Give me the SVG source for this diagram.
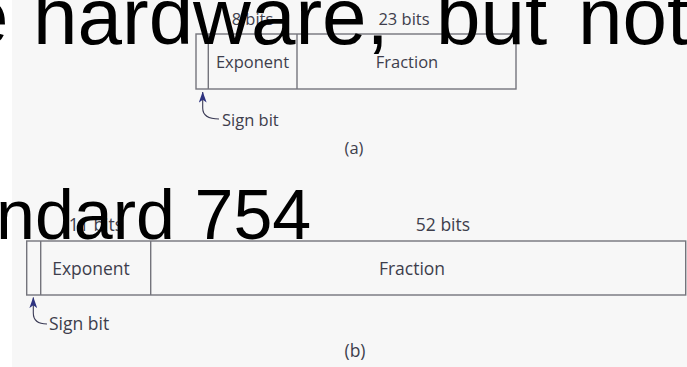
<svg xmlns="http://www.w3.org/2000/svg" width="687" height="367" viewBox="0 0 687 367">
<defs>
<style>
.lbl{font-family:"Open Sans","Noto Sans","Liberation Sans",sans-serif;fill:#3e3e4c}
.box{fill:none;stroke:#74747c;stroke-width:1.4}
.lead{fill:none;stroke:#3a3a55;stroke-width:1.1}
.big{font-family:"Liberation Sans",Arial,sans-serif;fill:#000}
</style>
<marker id="ah" viewBox="0 0 14 10" refX="13.5" refY="5" markerWidth="11" markerHeight="8" markerUnits="userSpaceOnUse" orient="auto">
<path d="M0,0 L14,5 L0,10 L3.5,5 Z" fill="#2e3380"/>
</marker>
</defs>
<rect x="0" y="0" width="687" height="367" fill="#ffffff"/>
<rect x="12" y="0" width="675" height="367" fill="#f7f7f7"/>

<g id="single">
<text class="lbl" x="252.5" y="25" font-size="16.5" text-anchor="middle">8 bits</text>
<text class="lbl" x="404" y="25" font-size="16.5" text-anchor="middle">23 bits</text>
<rect class="box" x="196" y="34" width="320" height="55"/>
<line class="box" x1="208.3" y1="34" x2="208.3" y2="89"/>
<line class="box" x1="297" y1="34" x2="297" y2="89"/>
<text class="lbl" x="252.5" y="68" font-size="16.5" text-anchor="middle">Exponent</text>
<text class="lbl" x="407" y="68" font-size="16.5" text-anchor="middle">Fraction</text>
<text class="lbl" x="222" y="126" font-size="16.5">Sign bit</text>
<text class="lbl" x="354" y="154" font-size="16.5" text-anchor="middle">(a)</text>
</g>

<g id="double">
<text class="lbl" x="96" y="231" font-size="17.5" text-anchor="middle">11 bits</text>
<text class="lbl" x="443" y="231" font-size="17.5" text-anchor="middle">52 bits</text>
<rect class="box" x="26.7" y="241" width="659" height="54"/>
<line class="box" x1="40.7" y1="241" x2="40.7" y2="295"/>
<line class="box" x1="150.7" y1="241" x2="150.7" y2="295"/>
<text class="lbl" x="91" y="275" font-size="17.5" text-anchor="middle">Exponent</text>
<text class="lbl" x="412" y="275" font-size="17.5" text-anchor="middle">Fraction</text>
<text class="lbl" x="49" y="330" font-size="17.5">Sign bit</text>
<text class="lbl" x="355" y="357" font-size="17.5" text-anchor="middle">(b)</text>
</g>

<g id="connectors">
<path class="lead" d="M219,119 C210,119 202.7,116 202.7,108 L202.7,92" marker-end="url(#ah)"/>
<path class="lead" d="M47,324 C38,324 33.3,321 33.3,313 L33.3,297.5" marker-end="url(#ah)"/>
</g>

<g id="overlay">
<text class="big" y="44" font-size="80"><tspan x="-36">e</tspan><tspan x="33">hardware,</tspan><tspan x="436">but</tspan><tspan x="578">not</tspan></text>
<text class="big" x="-4" y="239" font-size="70">ndard 754</text>
</g>
</svg>
